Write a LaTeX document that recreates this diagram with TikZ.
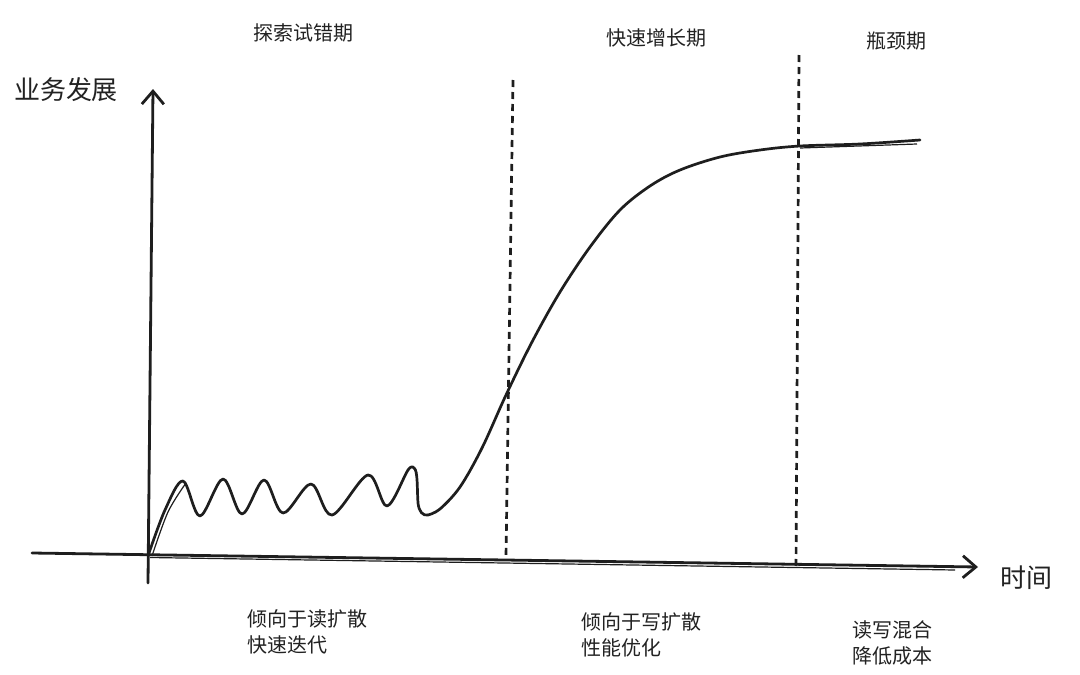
\documentclass[tikz,border=0pt]{standalone}
\usepackage{fontspec}
\setmainfont{Noto Sans CJK SC}
\usetikzlibrary{arrows.meta}
\definecolor{ink}{HTML}{1E1E1E}
\definecolor{txt}{HTML}{222222}
\begin{document}
\begin{tikzpicture}[x=1pt,y=-1pt,
  axis/.style={draw=ink,line width=2.8pt,line cap=round},
  axisarrow/.style={-{Straight Barb[length=13pt,width=22pt,line width=2.8pt]}},
  divider/.style={draw=ink,line width=2.7pt,dash pattern=on 7pt off 5pt},
  trend/.style={draw=ink,line width=2.7pt,line cap=round,line join=round},
  axislabel/.style={font=\fontsize{26}{30}\selectfont,text=txt,inner sep=0pt},
  phase/.style={font=\fontsize{20}{24}\selectfont,text=txt,inner sep=0pt},
  note/.style={font=\fontsize{20}{26}\selectfont,text=txt,inner sep=0pt,align=left,anchor=west}
]
\useasboundingbox (0,0) rectangle (1080,675);
\fill[white] (0,0) rectangle (1080,675);

% axes
\coordinate (xs) at (32,553);
\coordinate (xe) at (978,567);
\coordinate (xs2) at (150,557.5);
\coordinate (xe2) at (955,570);
\coordinate (ys) at (148,583);
\coordinate (ye) at (153,89);
\draw[axis,axisarrow] (xs) -- (xe);
\draw[draw=ink,line width=1.2pt] (xs2) -- (xe2);
\draw[axis,axisarrow] (ys) -- (ye);

% dividers
\coordinate (d1t) at (513,80);
\coordinate (d1b) at (506,557);
\coordinate (d2t) at (799,55);
\coordinate (d2b) at (796,570);
\draw[divider] (d1t) -- (d1b);
\draw[divider] (d2t) -- (d2b);

% trend curve
\draw[trend] plot[smooth,tension=0.55] coordinates {
 (148,556) (165,510) (183,481) (200,516) (223,479) (242,514) (264,480)
 (283,513) (311,484) (332,515) (368,475) (387,506) (408,470) (414,468)};
\draw[trend] (414,468) .. controls (418,470) and (417,490) .. (418,503)
  .. controls (419,512) and (423,516) .. (428,515);
\draw[trend] plot[smooth,tension=0.55] coordinates {
 (428,515) (440,509) (460,487) (482,448)
 (506,395) (532,342) (560,292) (590,247) (620,210) (650,186) (680,170)
 (720,157) (760,150) (800,146) (860,144) (920,140)};
\draw[draw=ink,line width=1.2pt] plot[smooth,tension=0.55] coordinates {
 (152,556) (168,512) (186,483)};
\draw[draw=ink,line width=1.2pt] (800,148) -- (917,144);

% labels
\node[axislabel] (ylab) at (66,90) {业务发展};
\node[axislabel] (xlab) at (1026,578) {时间};
\node[phase] (p1) at (303,33) {探索试错期};
\node[phase] (p2) at (656,38) {快速增长期};
\node[phase] (p3) at (896,41) {瓶颈期};
\node[note] (n1) at (247,632) {倾向于读扩散\\快速迭代};
\node[note] (n2) at (581,635) {倾向于写扩散\\性能优化};
\node[note] (n3) at (852,643) {读写混合\\降低成本};
\end{tikzpicture}
\end{document}
